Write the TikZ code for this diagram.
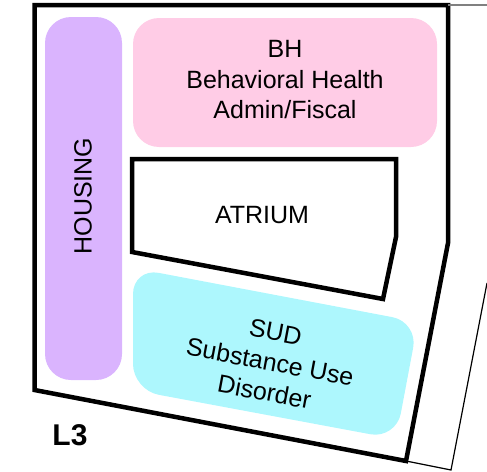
\documentclass[tikz,border=0pt]{standalone}
\usepackage{fontspec}
\setmainfont{Liberation Sans}
\definecolor{housingcol}{RGB}{218,180,254}
\definecolor{bhcol}{RGB}{255,204,230}
\definecolor{sudcol}{RGB}{173,247,253}
\begin{document}
\begin{tikzpicture}[x=1pt,y=-1pt,
  wall/.style={line width=4.5pt,line join=miter},
  thinwall/.style={line width=1.2pt},
  room/.style={rounded corners=26pt},
  label/.style={font=\fontsize{25}{30.5}\selectfont,align=center}]
\useasboundingbox (0,0) rectangle (487,471);
% coloured rooms
\fill[housingcol,room] (45,17) rectangle (122,380);
\fill[bhcol,room] (133,18) rectangle (437,147);
\fill[sudcol,room] (133,268) -- (418,322) -- (396,439) -- (133,390) -- cycle;
% walls
\draw[wall] (132,159) -- (396,159) -- (396,237) -- (383,299) -- (132,252) -- cycle;
\draw[wall] (34.5,5) -- (448,5) -- (448,243) -- (406,461) -- (34.5,390) -- cycle;
\draw[thinwall,gray] (448,5) -- (487,5);
\draw[thinwall] (406,461) -- (451,470) -- (487,283);
% labels
\node[label] (bh) at (285,80) {BH\\Behavioral Health\\Admin/Fiscal};
\node[label] (atrium) at (262,215) {ATRIUM};
\node[label,rotate=90] (housing) at (83,196) {HOUSING};
\node[label,rotate=-10.6] (sud) at (270,362) {SUD\\Substance Use\\Disorder};
\node[font=\bfseries\fontsize{30}{36}\selectfont] (lthree) at (70,435) {L3};
\end{tikzpicture}
\end{document}
